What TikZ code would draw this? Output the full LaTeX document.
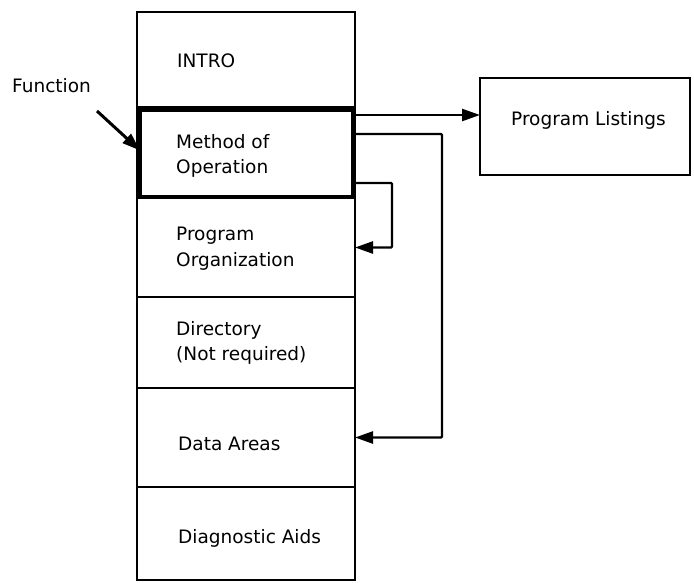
\documentclass[tikz,border=0pt]{standalone}
\usepackage{fontspec}
\setmainfont{DejaVu Sans}
\usetikzlibrary{arrows.meta,calc}
\tikzset{
  rowbox/.style={draw, line width=2.2pt, minimum width=218pt, inner sep=0pt, outer sep=0pt},
  thickbox/.style={draw, line width=4.2pt, inner sep=0pt, outer sep=0pt, minimum width=213pt},
  lbl/.style={anchor=base west, inner sep=0pt, font=\fontsize{18.5}{25}\selectfont},
  arr/.style={line width=2.4pt, -{Triangle[length=18pt,width=12pt]}}
}
\begin{document}
\begin{tikzpicture}[x=1pt,y=-1pt]
\useasboundingbox (0,0) rectangle (694,582);
% column rows
\node[rowbox, minimum height=95pt] (intro) at (246,59.5) {};
\node[rowbox, minimum height=91pt] (methodrow) at (246,152.5) {};
\node[rowbox, minimum height=99pt] (progorg) at (246,247.5) {};
\node[rowbox, minimum height=91pt] (directory) at (246,342.5) {};
\node[rowbox, minimum height=99pt] (dataareas) at (246,437.5) {};
\node[rowbox, minimum height=93pt] (diag) at (246,533.5) {};
\node[thickbox, minimum height=87pt] (method) at (246.5,153.5) {};
% program listings box
\node[rowbox, minimum width=210pt, minimum height=97pt] (listings) at (585,126.5) {};
% texts
\node[lbl] (tintro) at (177,67) {INTRO};
\node[lbl] (tmeth1) at (176,148) {Method of};
\node[lbl] (tmeth2) at (176,173) {Operation};
\node[lbl] (tprog1) at (176,240) {Program};
\node[lbl] (tprog2) at (176,266) {Organization};
\node[lbl] (tdir1) at (176,335) {Directory};
\node[lbl] (tdir2) at (176,360) {(Not required)};
\node[lbl] (tdata) at (178,450) {Data Areas};
\node[lbl] (tdiag) at (178,543) {Diagnostic Aids};
\node[lbl] (tlist) at (511,125) {Program Listings};
\node[lbl] (func) at (12,92) {Function};
% connector start points
\coordinate (fstart) at (97,111);
\coordinate (s1) at ([yshift=37.5pt]methodrow.east);
\coordinate (s2) at ([yshift=18.5pt]methodrow.east);
\coordinate (s3) at ([yshift=-30.5pt]methodrow.east);
% connectors
\draw[arr, line width=3pt] (fstart) -- ([yshift=3pt]method.west);
\draw[arr] (s1) -- (listings.west |- s1);
\draw[arr, rounded corners=1pt] (s2) -- ++(87,0) |- (dataareas.east);
\draw[arr, rounded corners=1pt] (s3) -- ++(37,0) |- (progorg.east);
\end{tikzpicture}
\end{document}
